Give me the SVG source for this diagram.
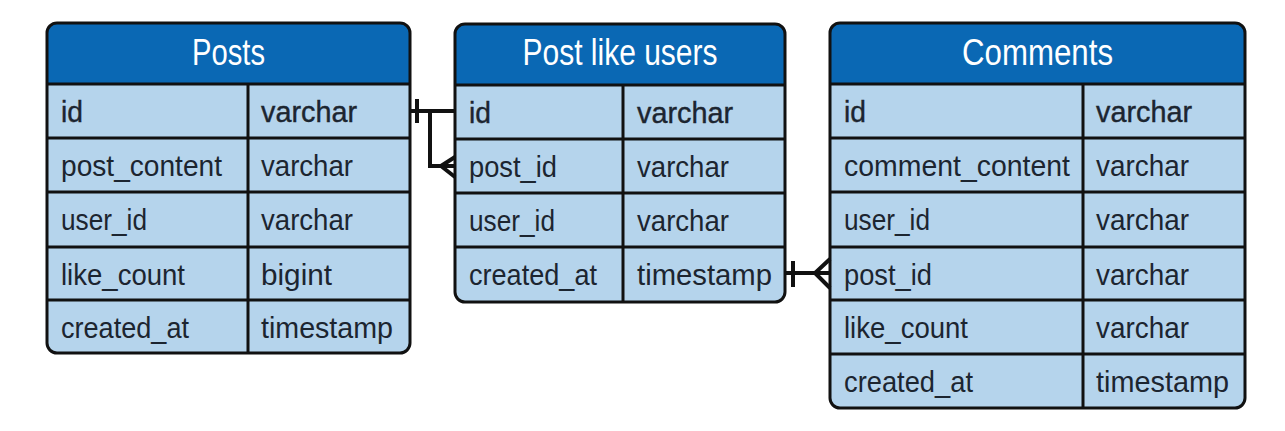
<svg xmlns="http://www.w3.org/2000/svg" width="1285" height="431" viewBox="0 0 1285 431">
<style>
.bg{fill:#b5d4ec}
.hd{fill:#0a68b4}
.frame{fill:none;stroke:#111;stroke-width:3}
.ln{stroke:#111;stroke-width:3}
.h{font-family:"Liberation Sans",Arial,sans-serif;font-size:36px;fill:#fff;text-anchor:middle}
.t{font-family:"Liberation Sans",Arial,sans-serif;font-size:30px;fill:#1c2530}
.pk{stroke:#1c2530;stroke-width:0.4}
.c{fill:none;stroke:#111;stroke-width:4}
</style>
<rect width="1285" height="431" fill="#fff"/>
<g id="posts">
<rect class="bg" x="47" y="23" width="363" height="330" rx="10"/>
<path class="hd" d="M47,84 V33 A10,10 0 0 1 57,23 H400 A10,10 0 0 1 410,33 V84 Z"/>
<line class="ln" x1="47" y1="84" x2="410" y2="84"/>
<line class="ln" x1="47" y1="138" x2="410" y2="138"/>
<line class="ln" x1="47" y1="192" x2="410" y2="192"/>
<line class="ln" x1="47" y1="247" x2="410" y2="247"/>
<line class="ln" x1="47" y1="300" x2="410" y2="300"/>
<line class="ln" x1="248" y1="84" x2="248" y2="353"/>
<rect class="frame" x="47" y="23" width="363" height="330" rx="10"/>
<text class="h" x="228.5" y="65" textLength="73" lengthAdjust="spacingAndGlyphs">Posts</text>
<text class="t pk" x="61" y="122" textLength="22" lengthAdjust="spacingAndGlyphs">id</text>
<text class="t pk" x="261" y="122" textLength="96" lengthAdjust="spacingAndGlyphs">varchar</text>
<text class="t" x="61" y="176" textLength="161" lengthAdjust="spacingAndGlyphs">post_content</text>
<text class="t" x="261" y="176" textLength="92" lengthAdjust="spacingAndGlyphs">varchar</text>
<text class="t" x="61" y="230" textLength="86" lengthAdjust="spacingAndGlyphs">user_id</text>
<text class="t" x="261" y="230" textLength="92" lengthAdjust="spacingAndGlyphs">varchar</text>
<text class="t" x="61" y="285" textLength="124" lengthAdjust="spacingAndGlyphs">like_count</text>
<text class="t" x="261" y="285" textLength="71" lengthAdjust="spacingAndGlyphs">bigint</text>
<text class="t" x="61" y="338" textLength="128" lengthAdjust="spacingAndGlyphs">created_at</text>
<text class="t" x="261" y="338" textLength="132" lengthAdjust="spacingAndGlyphs">timestamp</text>
</g>
<g id="post-like-users">
<rect class="bg" x="455" y="24" width="330" height="278" rx="10"/>
<path class="hd" d="M455,85 V34 A10,10 0 0 1 465,24 H775 A10,10 0 0 1 785,34 V85 Z"/>
<line class="ln" x1="455" y1="85" x2="785" y2="85"/>
<line class="ln" x1="455" y1="139" x2="785" y2="139"/>
<line class="ln" x1="455" y1="193" x2="785" y2="193"/>
<line class="ln" x1="455" y1="247" x2="785" y2="247"/>
<line class="ln" x1="623" y1="85" x2="623" y2="302"/>
<rect class="frame" x="455" y="24" width="330" height="278" rx="10"/>
<text class="h" x="620" y="65" textLength="195" lengthAdjust="spacingAndGlyphs">Post like users</text>
<text class="t pk" x="469" y="123" textLength="22" lengthAdjust="spacingAndGlyphs">id</text>
<text class="t pk" x="637" y="123" textLength="96" lengthAdjust="spacingAndGlyphs">varchar</text>
<text class="t" x="469" y="177" textLength="88" lengthAdjust="spacingAndGlyphs">post_id</text>
<text class="t" x="637" y="177" textLength="92" lengthAdjust="spacingAndGlyphs">varchar</text>
<text class="t" x="469" y="231" textLength="86" lengthAdjust="spacingAndGlyphs">user_id</text>
<text class="t" x="637" y="231" textLength="92" lengthAdjust="spacingAndGlyphs">varchar</text>
<text class="t" x="469" y="285" textLength="128" lengthAdjust="spacingAndGlyphs">created_at</text>
<text class="t" x="637" y="285" textLength="135" lengthAdjust="spacingAndGlyphs">timestamp</text>
</g>
<g id="comments">
<rect class="bg" x="830" y="23" width="415" height="385" rx="10"/>
<path class="hd" d="M830,84 V33 A10,10 0 0 1 840,23 H1235 A10,10 0 0 1 1245,33 V84 Z"/>
<line class="ln" x1="830" y1="84" x2="1245" y2="84"/>
<line class="ln" x1="830" y1="138" x2="1245" y2="138"/>
<line class="ln" x1="830" y1="192" x2="1245" y2="192"/>
<line class="ln" x1="830" y1="247" x2="1245" y2="247"/>
<line class="ln" x1="830" y1="300" x2="1245" y2="300"/>
<line class="ln" x1="830" y1="354" x2="1245" y2="354"/>
<line class="ln" x1="1083" y1="84" x2="1083" y2="408"/>
<rect class="frame" x="830" y="23" width="415" height="385" rx="10"/>
<text class="h" x="1037.5" y="65" textLength="151" lengthAdjust="spacingAndGlyphs">Comments</text>
<text class="t pk" x="844" y="122" textLength="22" lengthAdjust="spacingAndGlyphs">id</text>
<text class="t pk" x="1096" y="122" textLength="96" lengthAdjust="spacingAndGlyphs">varchar</text>
<text class="t" x="844" y="176" textLength="226" lengthAdjust="spacingAndGlyphs">comment_content</text>
<text class="t" x="1096" y="176" textLength="93" lengthAdjust="spacingAndGlyphs">varchar</text>
<text class="t" x="844" y="230" textLength="86" lengthAdjust="spacingAndGlyphs">user_id</text>
<text class="t" x="1096" y="230" textLength="93" lengthAdjust="spacingAndGlyphs">varchar</text>
<text class="t" x="844" y="285" textLength="88" lengthAdjust="spacingAndGlyphs">post_id</text>
<text class="t" x="1096" y="285" textLength="93" lengthAdjust="spacingAndGlyphs">varchar</text>
<text class="t" x="844" y="338" textLength="124" lengthAdjust="spacingAndGlyphs">like_count</text>
<text class="t" x="1096" y="338" textLength="93" lengthAdjust="spacingAndGlyphs">varchar</text>
<text class="t" x="844" y="392" textLength="129" lengthAdjust="spacingAndGlyphs">created_at</text>
<text class="t" x="1096" y="392" textLength="133" lengthAdjust="spacingAndGlyphs">timestamp</text>
</g>
<g id="connectors">
<path class="c" d="M411,111 H454"/>
<path class="c" d="M417,99 V123"/>
<path class="c" d="M430,111 V166 H454"/>
<path class="c" d="M455,157 L441,166 L455,177"/>
<path class="c" d="M786,273 H829"/>
<path class="c" d="M793,261 V287"/>
<path class="c" d="M830,259 L815,273 L830,288"/>
</g>
</svg>
